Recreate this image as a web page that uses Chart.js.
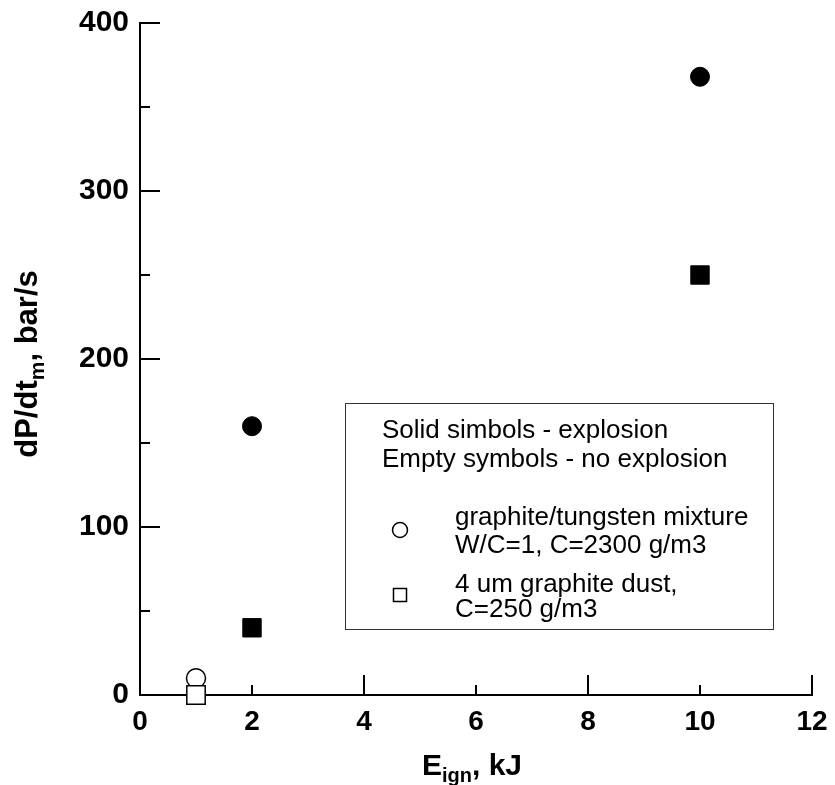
<!DOCTYPE html>
<html>
<head>
<meta charset="utf-8">
<script src="https://cdn.jsdelivr.net/npm/chart.js@4.4.1/dist/chart.umd.min.js"></script>
<style>
  html, body { margin: 0; padding: 0; background: #fff; }
  #wrap { width: 835px; height: 785px; position: relative; }
</style>
</head>
<body>
<div id="wrap"><canvas id="chart" width="835" height="785"></canvas></div>
<script>
// data: [E_ign kJ, dP/dt bar/s]
const solidCircles = [[2, 160], [10, 368]];
const solidSquares = [[2, 40], [10, 250]];
const emptyCircles = [[1, 10]];
const emptySquares = [[1, 0]];

const xTicks = [0, 2, 4, 6, 8, 10, 12];
const xLongTicks = [0, 4, 8, 12];
const yTicks = [0, 100, 200, 300, 400];
const yMinorTicks = [50, 150, 250, 350];

const legendHeader = ["Solid simbols - explosion", "Empty symbols - no explosion"];
const legendCircleText = ["graphite/tungsten mixture", "W/C=1, C=2300 g/m3"];
const legendSquareText = ["4 um graphite dust,", "C=250 g/m3"];

const FONT = '"Liberation Sans", Arial, Helvetica, sans-serif';

function toPoints(list) {
  return list.map(([x, y]) => ({ x, y }));
}

// draws text with a subscript part, centered horizontally on 0, baseline on 0
function drawSubText(ctx, parts, size, subSize) {
  let total = 0;
  parts.forEach((p) => {
    ctx.font = `bold ${p.sub ? subSize : size}px ${FONT}`;
    total += ctx.measureText(p.t).width;
  });
  let x = -total / 2;
  ctx.textBaseline = "alphabetic";
  ctx.textAlign = "left";
  parts.forEach((p) => {
    ctx.font = `bold ${p.sub ? subSize : size}px ${FONT}`;
    ctx.fillText(p.t, x, p.sub ? size * 0.22 : 0);
    x += ctx.measureText(p.t).width;
  });
}

const axisExtras = {
  id: "axisExtras",
  afterDraw(chart) {
    const { ctx, chartArea, scales } = chart;
    const xs = scales.x;
    const ys = scales.y;
    ctx.save();
    ctx.strokeStyle = "#000";
    ctx.fillStyle = "#000";
    ctx.lineWidth = 2;

    // inward ticks on y
    yTicks.concat(yMinorTicks).forEach((v) => {
      const len = yTicks.includes(v) ? 20 : 10;
      const py = Math.round(ys.getPixelForValue(v));
      ctx.beginPath();
      ctx.moveTo(chartArea.left, py);
      ctx.lineTo(chartArea.left + len, py);
      ctx.stroke();
    });

    // inward ticks on x
    xTicks.forEach((v) => {
      const len = xLongTicks.includes(v) ? 20 : 10;
      const px = Math.round(xs.getPixelForValue(v));
      ctx.beginPath();
      ctx.moveTo(px, chartArea.bottom);
      ctx.lineTo(px, chartArea.bottom - len);
      ctx.stroke();
    });

    // axis titles with subscripts
    ctx.save();
    ctx.translate(37, 364);
    ctx.rotate(-Math.PI / 2);
    drawSubText(ctx, [{ t: "dP/dt" }, { t: "m", sub: true }, { t: ", bar/s" }], 31, 21);
    ctx.restore();

    ctx.save();
    ctx.translate(472, 775);
    drawSubText(ctx, [{ t: "E" }, { t: "ign", sub: true }, { t: ", kJ" }], 30, 20);
    ctx.restore();

    // legend box
    const bx = 345, by = 403, bw = 428, bh = 226;
    ctx.lineWidth = 1;
    ctx.strokeStyle = "#333";
    ctx.strokeRect(bx + 0.5, by + 0.5, bw, bh);

    ctx.font = `26px ${FONT}`;
    ctx.textAlign = "left";
    ctx.textBaseline = "alphabetic";
    ctx.fillText(legendHeader[0], 382, 438);
    ctx.fillText(legendHeader[1], 382, 467);
    ctx.fillText(legendCircleText[0], 455, 525);
    ctx.fillText(legendCircleText[1], 455, 553);
    ctx.fillText(legendSquareText[0], 455, 592);
    ctx.fillText(legendSquareText[1], 455, 617);

    ctx.strokeStyle = "#000";
    ctx.lineWidth = 1.5;
    ctx.beginPath();
    ctx.arc(400, 530, 7.5, 0, Math.PI * 2);
    ctx.stroke();
    ctx.strokeRect(393.5, 588.5, 13, 13);

    ctx.restore();
  }
};

new Chart(document.getElementById("chart"), {
  type: "scatter",
  data: {
    datasets: [
      {
        data: toPoints(solidCircles),
        pointStyle: "circle",
        pointRadius: 9.5,
        backgroundColor: "#000",
        borderColor: "#000",
        borderWidth: 1
      },
      {
        data: toPoints(solidSquares),
        pointStyle: "rect",
        pointRadius: 13,
        backgroundColor: "#000",
        borderColor: "#000",
        borderWidth: 1
      },
      {
        data: toPoints(emptySquares),
        pointStyle: "rect",
        pointRadius: 13,
        backgroundColor: "#fff",
        borderColor: "#000",
        borderWidth: 1.5
      },
      {
        data: toPoints(emptyCircles),
        pointStyle: "circle",
        pointRadius: 9.5,
        backgroundColor: "#fff",
        borderColor: "#000",
        borderWidth: 1.5
      }
    ]
  },
  options: {
    responsive: false,
    animation: false,
    events: [],
    clip: false,
    layout: { padding: { top: 23, right: 23, left: 0, bottom: 0 } },
    plugins: {
      legend: { display: false },
      tooltip: { enabled: false }
    },
    scales: {
      x: {
        type: "linear",
        min: 0,
        max: 12,
        afterFit(scale) {
          scale.height = 90;
          scale.paddingLeft = 0;
          scale.paddingRight = 0;
        },
        afterBuildTicks(scale) { scale.ticks = xTicks.map((v) => ({ value: v })); },
        ticks: { font: { family: FONT, size: 28, weight: "bold" }, color: "#000", padding: 10 },
        grid: { display: false, drawTicks: false },
        border: { display: true, color: "#000", width: 2 }
      },
      y: {
        type: "linear",
        min: 0,
        max: 400,
        afterFit(scale) {
          scale.width = 140;
          scale.paddingTop = 0;
          scale.paddingBottom = 0;
        },
        afterBuildTicks(scale) { scale.ticks = yTicks.map((v) => ({ value: v })); },
        ticks: { font: { family: FONT, size: 30, weight: "bold" }, color: "#000", padding: 11 },
        grid: { display: false, drawTicks: false },
        border: { display: true, color: "#000", width: 2 }
      }
    }
  },
  plugins: [axisExtras]
});
</script>
</body>
</html>
